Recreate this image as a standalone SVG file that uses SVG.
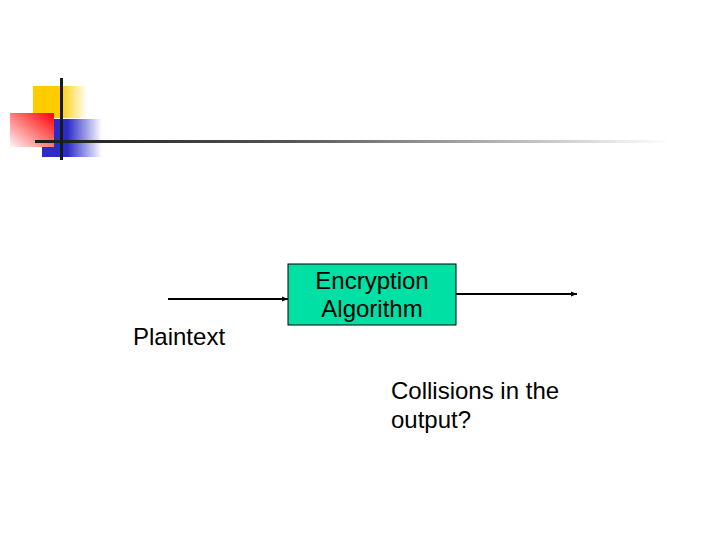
<svg xmlns="http://www.w3.org/2000/svg" width="720" height="540" viewBox="0 0 720 540">
<defs>
<linearGradient id="gy" x1="0" y1="0" x2="1" y2="0"><stop offset="0" stop-color="#FFCC00"/><stop offset="0.5" stop-color="#FFCC00"/><stop offset="1" stop-color="#FFCC00" stop-opacity="0"/></linearGradient>
<linearGradient id="gb" x1="0" y1="0" x2="1" y2="0"><stop offset="0" stop-color="#2B2BC8"/><stop offset="0.42" stop-color="#2B2BC8"/><stop offset="1" stop-color="#2B2BC8" stop-opacity="0"/></linearGradient>
<linearGradient id="gr" x1="1" y1="0" x2="0" y2="1"><stop offset="0" stop-color="#FF0000"/><stop offset="1" stop-color="#FFF4F4"/></linearGradient>
<linearGradient id="gl" x1="0" y1="0" x2="1" y2="0"><stop offset="0" stop-color="#1a1a1a"/><stop offset="0.4" stop-color="#555"/><stop offset="1" stop-color="#555" stop-opacity="0"/></linearGradient>
<marker id="ah" viewBox="0 0 10 10" refX="10" refY="5" markerWidth="6" markerHeight="6" markerUnits="userSpaceOnUse" orient="auto"><path d="M0,1 L10,5 L0,9 Z" fill="#000"/></marker>
<style>
.t{font-family:"Liberation Sans",Arial,sans-serif;font-size:24px;fill:#000}
.c{stroke:#000;stroke-width:2;fill:none}
</style>
</defs>
<g id="decor">
<rect x="33" y="86" width="54" height="32" fill="url(#gy)"/>
<rect x="42" y="119" width="60" height="38" fill="url(#gb)"/>
<rect x="10" y="113" width="44" height="34" fill="url(#gr)"/>
<rect x="35" y="140" width="635" height="3" fill="url(#gl)"/>
<rect x="60" y="78" width="3" height="82" fill="#1a1a1a"/>
</g>
<g id="connectors">
<line class="c" x1="168" y1="299" x2="288" y2="299" marker-end="url(#ah)"/>
<line class="c" x1="456" y1="294" x2="577" y2="294" marker-end="url(#ah)"/>
</g>
<g id="encryption">
<rect x="288" y="264" width="168" height="61" fill="#00E0A5" stroke="#000" stroke-width="1"/>
<text class="t" x="372" y="289" text-anchor="middle">Encryption</text>
<text class="t" x="372" y="317" text-anchor="middle">Algorithm</text>
</g>
<g id="plaintext"><text class="t" x="133" y="345">Plaintext</text></g>
<g id="collisions">
<text class="t" x="391" y="399">Collisions in the</text>
<text class="t" x="391" y="428">output?</text>
</g>
</svg>
